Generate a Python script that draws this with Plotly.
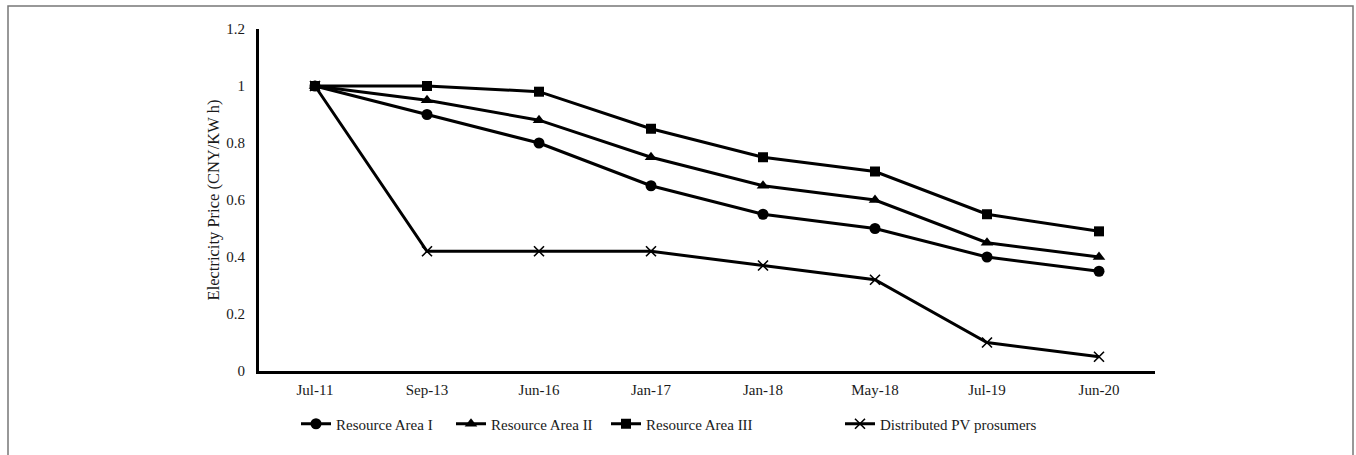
import plotly.graph_objects as go

# Feed-in electricity price benchmarks by resource area
dates = ["Jul-11", "Sep-13", "Jun-16", "Jan-17", "Jan-18", "May-18", "Jul-19", "Jun-20"]
area_1 = [1.0, 0.90, 0.80, 0.65, 0.55, 0.50, 0.40, 0.35]
area_2 = [1.0, 0.95, 0.88, 0.75, 0.65, 0.60, 0.45, 0.40]
area_3 = [1.0, 1.00, 0.98, 0.85, 0.75, 0.70, 0.55, 0.49]
pv_prosumers = [1.0, 0.42, 0.42, 0.42, 0.37, 0.32, 0.10, 0.05]
y_ticks = [0, 0.2, 0.4, 0.6, 0.8, 1, 1.2]

FONT = "Liberation Serif"
TXT = "#1a1a1a"
W, H = 1356, 455
L, R, T, B = 259, 201, 29, 84
PW, PH = W - L - R, H - T - B


def px_x(px):
    return (px - L) / PW


def px_y(py):
    return (H - B - py) / PH


fig = go.Figure()

series = [
    ("Resource Area I", area_1, dict(symbol="circle", size=11), "legend"),
    ("Resource Area II", area_2, dict(symbol="triangle-up", size=11), "legend"),
    ("Resource Area III", area_3, dict(symbol="square", size=10), "legend"),
    ("Distributed PV prosumers", pv_prosumers,
     dict(symbol="x-thin", size=10, line=dict(width=1.6, color="black")), "legend2"),
]
for name, vals, mk, lg in series:
    fig.add_trace(go.Scatter(
        x=dates, y=vals, name=name, mode="lines+markers",
        line=dict(color="black", width=3),
        marker=dict(color="black", **mk),
        legend=lg,
    ))

fig.update_layout(
    width=W, height=H,
    margin=dict(l=L, r=R, t=T, b=B),
    paper_bgcolor="white", plot_bgcolor="white",
    font=dict(family=FONT, size=15, color=TXT),
    showlegend=True,
    legend=dict(orientation="h", x=px_x(296), xanchor="left",
                y=px_y(424), yanchor="middle",
                entrywidth=110, entrywidthmode="pixels",
                font=dict(family=FONT, size=15, color=TXT),
                bgcolor="rgba(0,0,0,0)"),
    legend2=dict(orientation="h", x=px_x(840), xanchor="left",
                 y=px_y(424), yanchor="middle",
                 font=dict(family=FONT, size=15, color=TXT),
                 bgcolor="rgba(0,0,0,0)"),
    xaxis=dict(
        type="category", range=[-0.5, 7.5],
        showline=True, linecolor="black", linewidth=3,
        showgrid=False, zeroline=False, ticks="",
        ticklabelstandoff=3,
        tickfont=dict(family=FONT, size=15, color=TXT),
    ),
    yaxis=dict(
        range=[0, 1.2], tickvals=y_ticks,
        ticktext=["0", "0.2", "0.4", "0.6", "0.8", "1", "1.2"],
        showline=True, linecolor="black", linewidth=3,
        showgrid=False, zeroline=False, ticks="",
        ticklabelstandoff=8, automargin=True,
        tickfont=dict(family=FONT, size=15, color=TXT),
        title=dict(text="Electricity Price (CNY/KW h)", standoff=3,
                   font=dict(family=FONT, size=16.5, color=TXT)),
    ),
    shapes=[dict(type="rect", xref="paper", yref="paper",
                 x0=px_x(8), x1=px_x(1353), y0=px_y(470), y1=px_y(6),
                 line=dict(color="#777", width=1.5), layer="below")],
)

fig.write_html("out.html")
